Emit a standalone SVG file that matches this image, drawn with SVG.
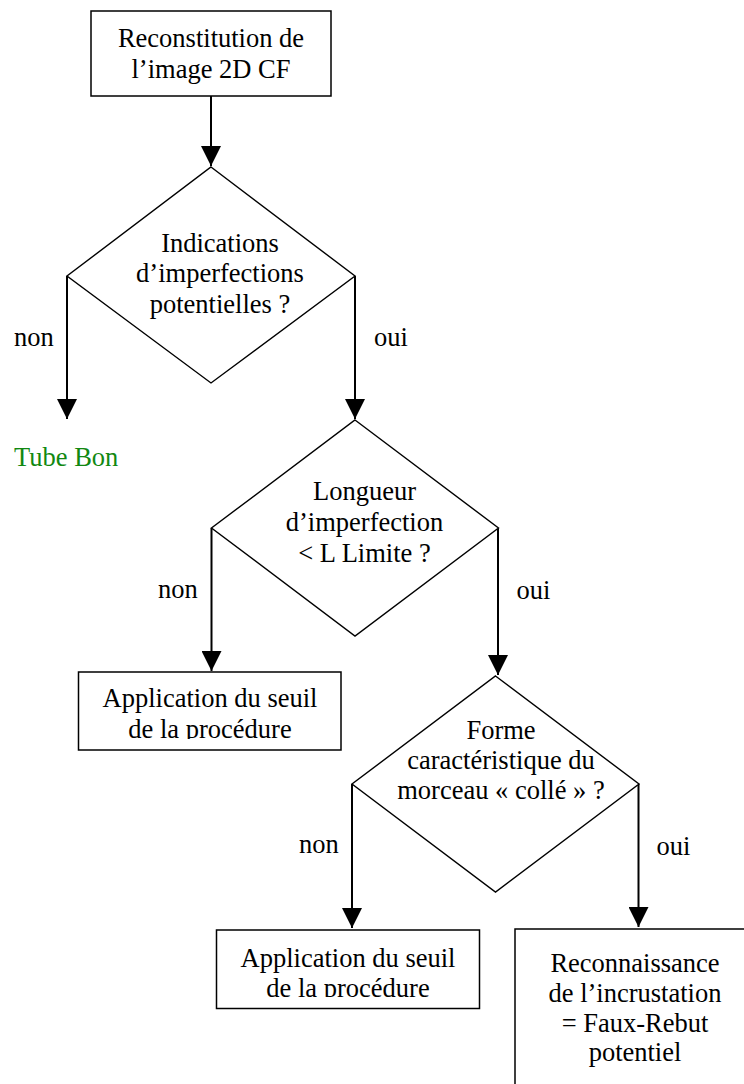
<svg xmlns="http://www.w3.org/2000/svg" width="744" height="1084" viewBox="0 0 744 1084">
<style>
  text { font-family: "Liberation Serif", "Times New Roman", serif; font-size: 26.5px; fill: #000; }
  .c { text-anchor: middle; }
  .box { fill: #fff; stroke: #000; stroke-width: 1.5; }
  .dia { fill: #fff; stroke: #000; stroke-width: 1.4; }
  .conn { stroke: #000; stroke-width: 2; fill: none; marker-end: url(#arr); }
  .green { fill: #118811; }
</style>
<defs>
  <marker id="arr" markerUnits="userSpaceOnUse" markerWidth="20" markerHeight="20" viewBox="0 0 20 20" refX="20" refY="10" orient="auto">
    <path d="M0,0 L20,10 L0,20 z" fill="#000"/>
  </marker>
  <clipPath id="clip2"><rect x="78" y="672" width="263" height="67"/></clipPath>
  <clipPath id="clip3"><rect x="216" y="930" width="263" height="67"/></clipPath>
</defs>
<rect width="744" height="1084" fill="#fff"/>

<g id="connectors">
  <line class="conn" x1="211" y1="96" x2="211" y2="166"/>
  <line class="conn" x1="67" y1="276" x2="67" y2="419"/>
  <line class="conn" x1="355" y1="276" x2="355" y2="419"/>
  <line class="conn" x1="211.5" y1="528" x2="211.5" y2="671"/>
  <line class="conn" x1="498" y1="528" x2="498" y2="675"/>
  <line class="conn" x1="352" y1="784" x2="352" y2="928"/>
  <line class="conn" x1="638.5" y1="784" x2="638.5" y2="927"/>
</g>

<g id="box1">
  <rect class="box" x="91" y="11" width="240" height="85"/>
  <text class="c" x="211" y="47">Reconstitution de</text>
  <text class="c" x="211" y="77.5">l’image 2D CF</text>
</g>

<g id="decision1">
  <polygon class="dia" points="211,167 355,276 211,383 67,276"/>
  <text class="c" x="220" y="252">Indications</text>
  <text class="c" x="220" y="282">d’imperfections</text>
  <text class="c" x="220" y="313">potentielles ?</text>
</g>

<g id="label-non1"><text x="14" y="346">non</text></g>
<g id="label-oui1"><text x="374" y="346">oui</text></g>
<g id="tube-bon"><text class="green" x="14" y="466">Tube Bon</text></g>

<g id="decision2">
  <polygon class="dia" points="355,420 498.5,528 355,636 211.5,528"/>
  <text class="c" x="364.5" y="500">Longueur</text>
  <text class="c" x="364.5" y="530.5">d’imperfection</text>
  <text class="c" x="364.5" y="561.5">&lt; L Limite ?</text>
</g>

<g id="label-non2"><text x="158" y="598">non</text></g>
<g id="label-oui2"><text x="516.5" y="599">oui</text></g>

<g id="box2">
  <rect class="box" x="78.5" y="672" width="262.5" height="78"/>
  <g clip-path="url(#clip2)">
    <text class="c" x="210" y="707">Application du seuil</text>
    <text class="c" x="210" y="737.5">de la procédure</text>
  </g>
</g>

<g id="decision3">
  <polygon class="dia" points="495.5,676 639,784 495.5,892 352,784"/>
  <text class="c" x="501" y="739">Forme</text>
  <text class="c" x="501" y="769">caractéristique du</text>
  <text class="c" x="501" y="799">morceau « collé » ?</text>
</g>

<g id="label-non3"><text x="299" y="853">non</text></g>
<g id="label-oui3"><text x="656.5" y="854.5">oui</text></g>

<g id="box3">
  <rect class="box" x="216.5" y="930" width="263" height="78.5"/>
  <g clip-path="url(#clip3)">
    <text class="c" x="348" y="966.5">Application du seuil</text>
    <text class="c" x="348" y="997">de la procédure</text>
  </g>
</g>

<g id="box4">
  <rect class="box" x="515" y="929" width="260" height="200"/>
  <text class="c" x="635" y="971.5">Reconnaissance</text>
  <text class="c" x="635" y="1001.5">de l’incrustation</text>
  <text class="c" x="635" y="1031.5">= Faux-Rebut</text>
  <text class="c" x="635" y="1060.5">potentiel</text>
</g>
</svg>
